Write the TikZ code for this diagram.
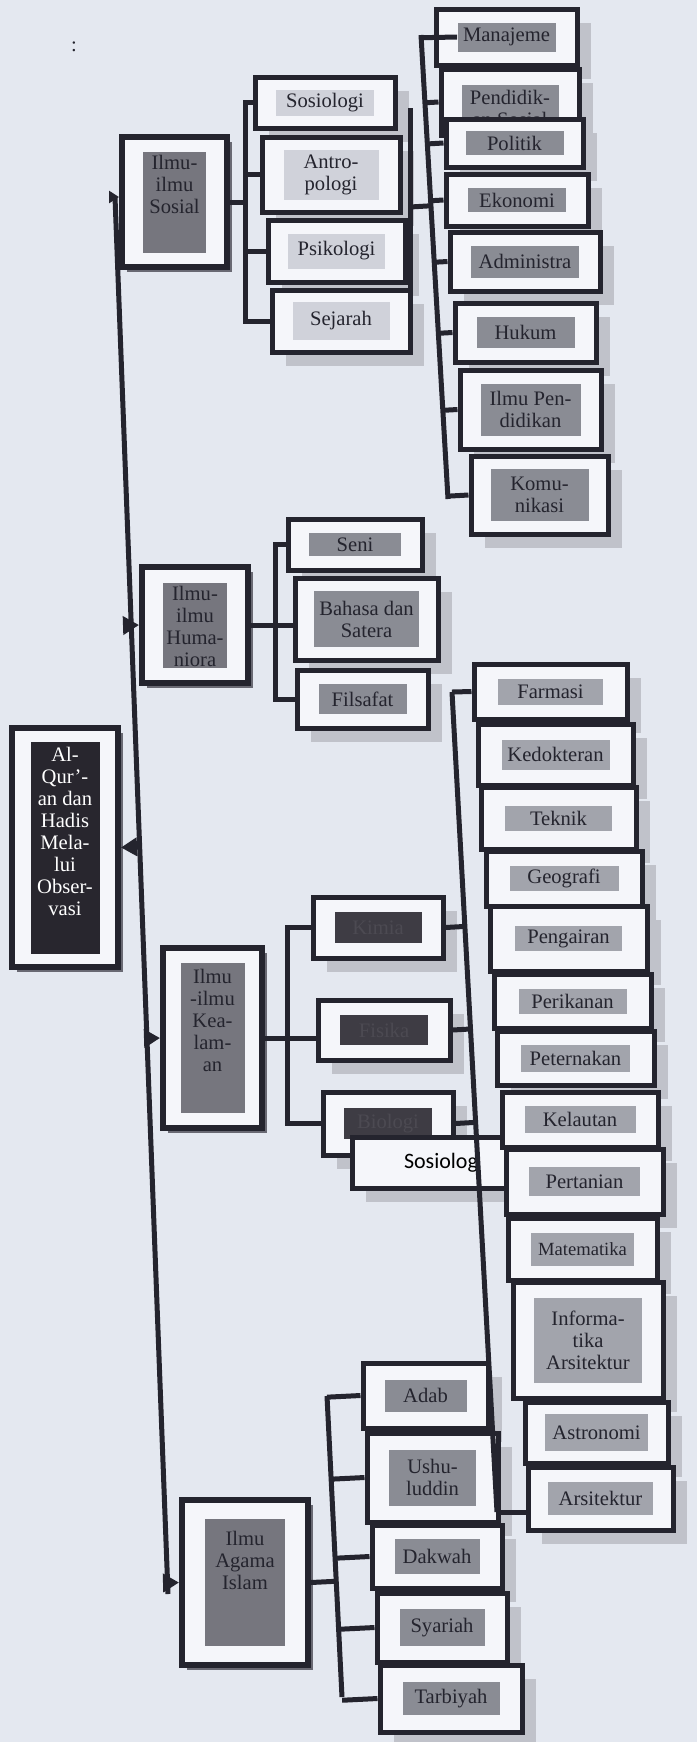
\documentclass[tikz,border=0pt]{standalone}
\usepackage{fontspec}
\setmainfont{Liberation Serif}
\newfontfamily\calfont{Carlito}
\usetikzlibrary{shadows,calc,arrows.meta}

\definecolor{bg}{RGB}{228,232,240}
\definecolor{paper}{RGB}{245,246,250}
\definecolor{ink}{RGB}{36,36,46}
\definecolor{glight}{RGB}{208,210,218}
\definecolor{gmid}{RGB}{138,140,148}
\definecolor{gfar}{RGB}{162,164,172}
\definecolor{gcat}{RGB}{118,118,126}
\definecolor{gdark}{RGB}{62,60,68}
\definecolor{gdarktext}{RGB}{76,74,82}
\definecolor{groot}{RGB}{40,38,46}
\definecolor{shlight}{RGB}{192,194,202}
\definecolor{shdark}{RGB}{105,105,115}

% text block with its lines at the top
\newcommand{\toptext}[4][2pt]{\parbox[c][#3][t]{#2}{\centering\vspace{#1}#4}}

\tikzset{
  boxline/.style={draw=ink, line width=2.5pt, fill=paper, inner sep=0pt},
  kidbox/.style={boxline, drop shadow={shadow xshift=7pt, shadow yshift=-7pt, fill=shlight, opacity=1}},
  catbox/.style={boxline, line width=3pt, drop shadow={shadow xshift=2.5pt, shadow yshift=-2.5pt, fill=shdark, opacity=1}},
  txtbase/.style={inner sep=0pt, text=ink, font=\fontsize{10.3}{11}\selectfont},
  txt/.style={txtbase, align=center},
  tlight/.style={txt, fill=glight},
  tmid/.style={txt, fill=gmid},
  tfar/.style={txt, fill=gfar},
  tdark/.style={txt, fill=gdark, text=gdarktext},
  tcat/.style={txtbase, fill=gcat},
  troot/.style={txtbase, fill=groot, text=white},
  conn/.style={draw=ink, line width=2.5pt},
  arr/.style={conn, -{Triangle[length=8pt,width=9pt]}},
}

\begin{document}
\begin{tikzpicture}[x=0.5pt,y=-0.5pt]
\fill[bg] (0,0) rectangle (697,1742);
\useasboundingbox (0,0) rectangle (697,1742);

\node[txt] (colon) at (74,47) {:};

% ilmu-ilmu sosial
\node[catbox, minimum width=52.5pt, minimum height=65pt] (sosial) at (174.5,202) {};
\node[tcat] (sosial-t) at (sosial) {\toptext{31.5pt}{50.5pt}{Ilmu-\\ilmu\\Sosial}};

\node[kidbox, minimum width=70pt, minimum height=25.5pt] (sosio) at (325,102.5) {};
\node[tlight, minimum width=49pt, minimum height=13pt] (sosio-t) at (sosio) {Sosiologi};
\node[kidbox, minimum width=69pt, minimum height=37.5pt] (antro) at (331,174.5) {};
\node[tlight, minimum width=47.5pt, minimum height=25pt] (antro-t) at (antro) {Antro-\\pologi};
\node[kidbox, minimum width=68.5pt, minimum height=31pt] (psiko) at (336.5,251) {};
\node[tlight, minimum width=48.5pt, minimum height=17.5pt] (psiko-t) at (psiko) {Psikologi};
\node[kidbox, minimum width=69pt, minimum height=31pt] (sejarah) at (341,321) {};
\node[tlight, minimum width=48.5pt, minimum height=19pt] (sejarah-t) at (sejarah) {Sejarah};

\node[kidbox, minimum width=70.5pt, minimum height=28pt] (man) at (506.5,37) {};
\node[tmid, minimum width=49pt, minimum height=14.5pt] (man-t) at (man) {Manajeme};
\node[kidbox, minimum width=69pt, minimum height=33pt] (pend) at (510,102) {};
\node[tmid, minimum width=48.5pt, minimum height=23.5pt] (pend-t) at ($(pend)+(0,6)$) {Pendidik-\\an Sosial};
\node[kidbox, minimum width=68.5pt, minimum height=24pt] (politik) at (514.5,143) {};
\node[tmid, minimum width=49pt, minimum height=12pt] (politik-t) at (politik) {Politik};
\node[kidbox, minimum width=71pt, minimum height=26pt] (ekonomi) at (517,200) {};
\node[tmid, minimum width=49pt, minimum height=12pt] (ekonomi-t) at (ekonomi) {Ekonomi};
\node[kidbox, minimum width=75pt, minimum height=29.5pt] (admin) at (525,261.5) {};
\node[tmid, minimum width=54pt, minimum height=16pt] (admin-t) at (admin) {Administra};
\node[kidbox, minimum width=70.5pt, minimum height=29.5pt] (hukum) at (525.5,332.5) {};
\node[tmid, minimum width=49pt, minimum height=15.5pt] (hukum-t) at (hukum) {Hukum};
\node[kidbox, minimum width=70.5pt, minimum height=39.5pt] (ilmupend) at (530.5,409.5) {};
\node[tmid, minimum width=50pt, minimum height=26pt] (ilmupend-t) at (ilmupend) {Ilmu Pen-\\didikan};
\node[kidbox, minimum width=68.5pt, minimum height=39pt] (komu) at (539.5,495) {};
\node[tmid, minimum width=49pt, minimum height=26pt] (komu-t) at (komu) {Komu-\\nikasi};

% humaniora
\node[catbox, minimum width=53pt, minimum height=58pt] (hum) at (195,625) {};
\node[tcat] (hum-t) at (hum) {\toptext{32pt}{42.5pt}{Ilmu-\\ilmu\\Huma-\\niora}};
\node[kidbox, minimum width=67pt, minimum height=25.5pt] (seni) at (355,544.5) {};
\node[tmid, minimum width=46pt, minimum height=11.5pt] (seni-t) at (seni) {Seni};
\node[kidbox, minimum width=71.5pt, minimum height=41pt] (bahasa) at (366.5,619) {};
\node[tmid, minimum width=52.5pt, minimum height=28pt] (bahasa-t) at (bahasa) {Bahasa dan\\Satera};
\node[kidbox, minimum width=65.5pt, minimum height=29pt] (filsafat) at (362.5,699) {};
\node[tmid, minimum width=44pt, minimum height=15pt] (filsafat-t) at (filsafat) {Filsafat};

% root
\node[catbox, minimum width=53pt, minimum height=119.5pt] (root) at (65,847.5) {};
\node[troot] (root-t) at (root) {\toptext[3pt]{34.5pt}{106pt}{Al-\\Qur’-\\an dan\\Hadis\\Mela-\\lui\\Obser-\\vasi}};

% kealaman
\node[catbox, minimum width=49.5pt, minimum height=90pt] (kea) at (212.5,1038) {};
\node[tcat] (kea-t) at (kea) {\toptext[3pt]{32pt}{75pt}{Ilmu\\-ilmu\\Kea-\\lam-\\an}};
\node[kidbox, minimum width=65pt, minimum height=30.5pt] (kimia) at (378,927.5) {};
\node[tdark, minimum width=43.5pt, minimum height=15.5pt] (kimia-t) at (kimia) {Kimia};
\node[kidbox, minimum width=66pt, minimum height=30pt] (fisika) at (384,1030) {};
\node[tdark, minimum width=44pt, minimum height=15pt] (fisika-t) at (fisika) {Fisika};
\node[kidbox, minimum width=65pt, minimum height=31.5pt] (biologi) at (388,1123.5) {};
\node[tdark, minimum width=44pt, minimum height=15.5pt] (biologi-t) at (biologi) {Biologi};
\node[kidbox, minimum width=77pt, minimum height=25.5pt, text width=49pt, align=right,
      font=\calfont\fontsize{11}{13}\selectfont, text=black] (sosbox) at (429,1162.5) {Sosiolog};

\node[kidbox, minimum width=76.5pt, minimum height=27.5pt] (farmasi) at (550.5,691.5) {};
\node[tfar, minimum width=52.5pt, minimum height=13pt] (farmasi-t) at (farmasi) {Farmasi};
\node[kidbox, minimum width=77.5pt, minimum height=30.5pt] (kedok) at (555.5,754.5) {};
\node[tfar, minimum width=54pt, minimum height=15pt] (kedok-t) at (kedok) {Kedokteran};
\node[kidbox, minimum width=77.5pt, minimum height=31pt] (teknik) at (558.5,818) {};
\node[tfar, minimum width=53.5pt, minimum height=12.5pt] (teknik-t) at (teknik) {Teknik};
\node[kidbox, minimum width=78pt, minimum height=27.5pt] (geografi) at (564,878.5) {};
\node[tfar, minimum width=54.5pt, minimum height=12.5pt] (geografi-t) at (geografi) {Geografi};
\node[kidbox, minimum width=78.5pt, minimum height=32.5pt] (pengairan) at (568.5,938.5) {};
\node[tfar, minimum width=53.5pt, minimum height=12.5pt] (pengairan-t) at (pengairan) {Pengairan};
\node[kidbox, minimum width=78.5pt, minimum height=27pt] (perikanan) at (572.5,1001) {};
\node[tfar, minimum width=54pt, minimum height=12.5pt] (perikanan-t) at (perikanan) {Perikanan};
\node[kidbox, minimum width=78.5pt, minimum height=27pt] (peternakan) at (575.5,1058) {};
\node[tfar, minimum width=54.5pt, minimum height=13.5pt] (peternakan-t) at (peternakan) {Peternakan};
\node[kidbox, minimum width=78pt, minimum height=27.5pt] (kelautan) at (580,1119.5) {};
\node[tfar, minimum width=55.5pt, minimum height=13.5pt] (kelautan-t) at (kelautan) {Kelautan};
\node[kidbox, minimum width=78.5pt, minimum height=32.5pt] (pertanian) at (584.5,1181.5) {};
\node[tfar, minimum width=55.5pt, minimum height=14.5pt] (pertanian-t) at (pertanian) {Pertanian};
\node[kidbox, minimum width=74.5pt, minimum height=31pt] (matematika) at (582.5,1249) {};
\node[tfar, minimum width=51.5pt, minimum height=16.5pt, font=\fontsize{9.3}{11}\selectfont] (matematika-t) at (matematika) {Matematika};
\node[kidbox, minimum width=75pt, minimum height=58pt] (informatika) at (588,1340) {};
\node[tfar, minimum width=54pt, minimum height=42.5pt] (informatika-t) at (informatika) {Informa-\\tika\\Arsitektur};
\node[kidbox, minimum width=71.5pt, minimum height=30.5pt] (astronomi) at (596.5,1432.5) {};
\node[tfar, minimum width=51.5pt, minimum height=18.5pt] (astronomi-t) at (astronomi) {Astronomi};
\node[kidbox, minimum width=72.5pt, minimum height=31.5pt] (arsitektur) at (600.5,1498.5) {};
\node[tfar, minimum width=52.5pt, minimum height=16.5pt] (arsitektur-t) at (arsitektur) {Arsitektur};

% ilmu agama islam
\node[catbox, minimum width=63pt, minimum height=82.5pt] (agama) at (245,1582.5) {};
\node[tcat] (agama-t) at (agama) {\toptext[6pt]{40pt}{63.5pt}{Ilmu\\Agama\\Islam}};
\node[kidbox, minimum width=62.5pt, minimum height=32.5pt] (adab) at (425.5,1395.5) {};
\node[tmid, minimum width=41pt, minimum height=16pt] (adab-t) at (adab) {Adab};
\node[kidbox, minimum width=65.5pt, minimum height=44.5pt] (ushul) at (432.5,1477.5) {};
\node[tmid, minimum width=43.5pt, minimum height=28pt] (ushul-t) at (ushul) {Ushu-\\luddin};
\node[kidbox, minimum width=65pt, minimum height=31.5pt] (dakwah) at (437,1556.5) {};
\node[tmid, minimum width=42.5pt, minimum height=17.5pt] (dakwah-t) at (dakwah) {Dakwah};
\node[kidbox, minimum width=65pt, minimum height=34.5pt] (syariah) at (442,1627.5) {};
\node[tmid, minimum width=42.5pt, minimum height=18.5pt] (syariah-t) at (syariah) {Syariah};
\node[kidbox, minimum width=71pt, minimum height=33.5pt] (tarbiyah) at (451,1698.5) {};
\node[tmid, minimum width=48.5pt, minimum height=16.5pt] (tarbiyah-t) at (tarbiyah) {Tarbiyah};

% trunk from the root
\coordinate (ttop) at (115,197);
\coordinate (tbot) at (168,1594);
\draw[conn] (ttop) -- (tbot);
\draw[conn, -{Triangle[length=5pt,width=6pt]}] (ttop) -- (sosial.west |- ttop);
\draw[arr] ($(ttop)!(hum.west)!(tbot)$) -- (hum.west);
\draw[arr] ($(ttop)!(root.east)!(tbot)$) -- (root.east);
\draw[arr] ($(ttop)!(kea.west)!(tbot)$) -- (kea.west);
\draw[arr] ($(ttop)!(agama.west)!(tbot)$) -- (agama.west);

% sosial brackets
\coordinate (sbx) at (245,0);
\draw[conn] (sosio.west) -- (sosio.west -| sbx) -- (sejarah.west -| sbx) -- (sejarah.west);
\draw[conn] (sosial.east) -- (sosial.east -| sbx);
\draw[conn] (antro.west) -- (antro.west -| sbx);
\draw[conn] (psiko.west) -- (psiko.west -| sbx);

\coordinate (sr1) at (410,108);
\coordinate (sr2) at (410,317);
\coordinate (sr) at (410,207);
\coordinate (b2a) at (421,35);
\coordinate (b2b) at (448,499);
\draw[conn] (sr1) -- (sr2);
\draw[conn] (sr) -- ($(b2a)!(sr)!(b2b)$);
\draw[conn] (b2a) -- (b2b);
\draw[conn] ($(b2a)!(man.west)!(b2b)$) -- (man-t.west);
\foreach \n in {pend,politik,ekonomi,admin,hukum,ilmupend,komu}
  \draw[conn] ($(b2a)!(\n.west)!(b2b)$) -- (\n.west);

% humaniora bracket
\coordinate (hbx) at (275,0);
\draw[conn] (seni.west) -- (seni.west -| hbx) -- (filsafat.west -| hbx) -- (filsafat.west);
\draw[conn] (hum.east) -- (hum.east -| bahasa.west);

% kealaman brackets
\coordinate (kbx) at (287,0);
\draw[conn] (kimia.west) -- (kimia.west -| kbx) -- (biologi.west -| kbx) -- (biologi.west);
\draw[conn] (kea.east) -- (kea.east -| fisika.west);

\coordinate (fra) at (452,692);
\coordinate (frb) at (497,1512);
\draw[conn] (fra) -- (frb);
\draw[conn] (fra) -- (farmasi.west);
\draw[conn] (frb) -- (frb -| arsitektur.west);
\foreach \n in {kimia,fisika,biologi}
  \draw[conn] (\n.east) -- ($(fra)!(\n.east)!(frb)$);

% agama bracket
\coordinate (aga) at (327,1396);
\coordinate (agb) at (342,1697);
\draw[conn] (aga) -- (agb);
\draw[conn] (agama.east) -- ($(aga)!(agama.east)!(agb)$);
\foreach \n in {adab,ushul,dakwah,syariah,tarbiyah}
  \draw[conn] ($(aga)!(\n.west)!(agb)$) -- (\n.west);
\end{tikzpicture}
\end{document}
